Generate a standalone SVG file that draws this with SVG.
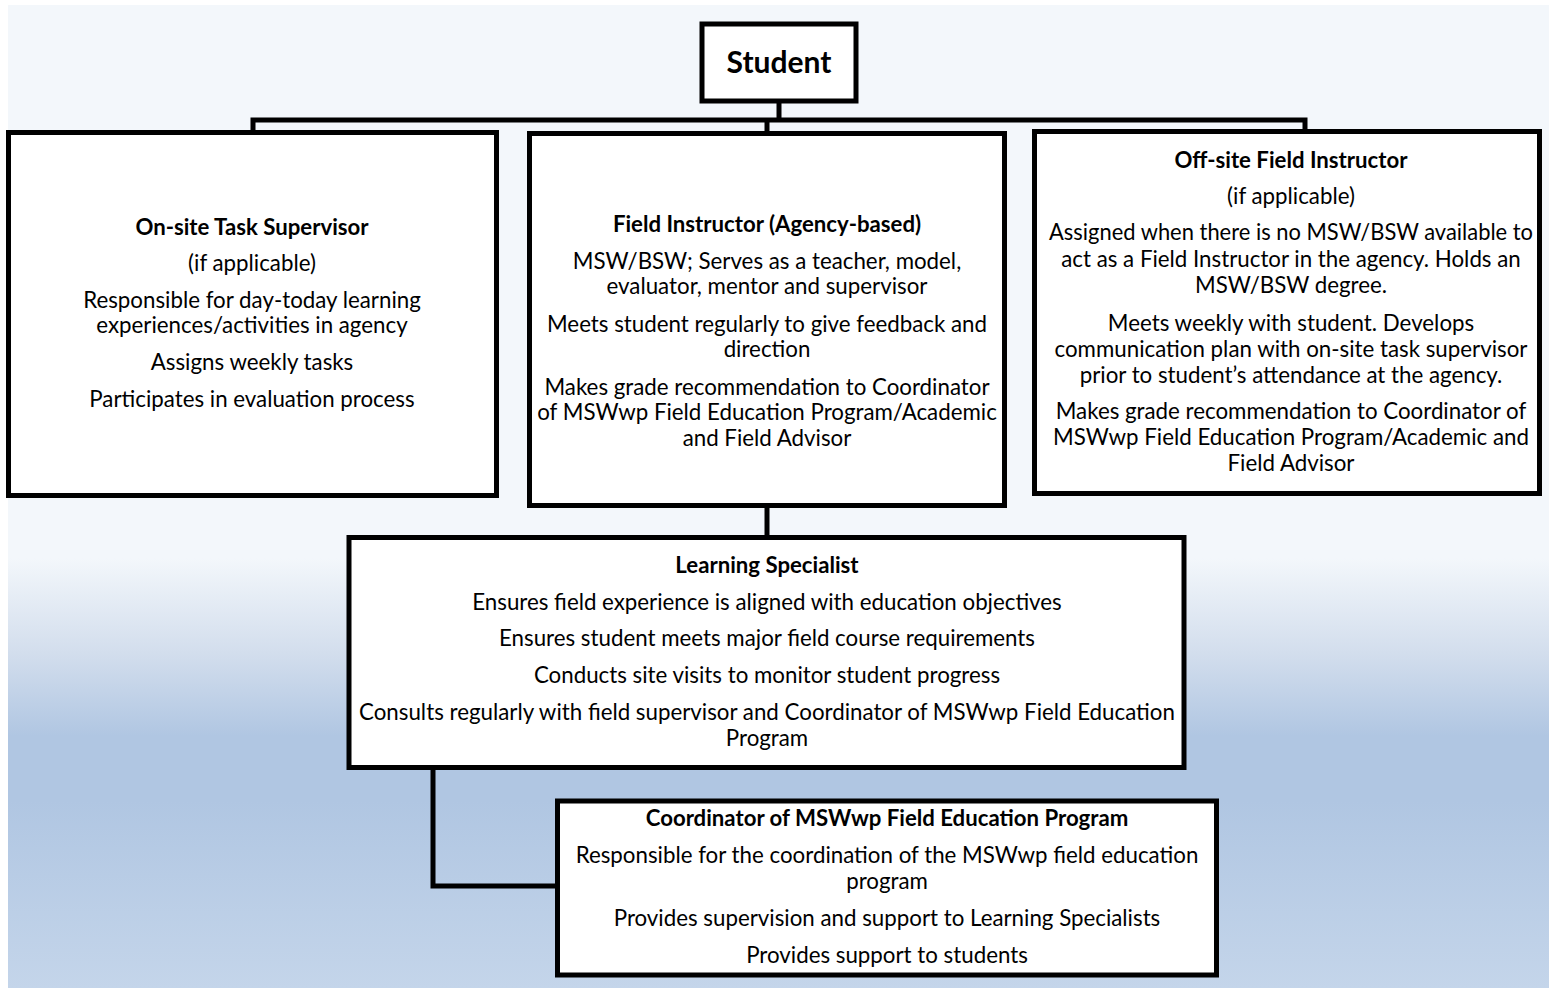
<svg xmlns="http://www.w3.org/2000/svg" width="1551" height="988" viewBox="0 0 1551 988">
  <defs>
    <linearGradient id="bg" x1="0" y1="0" x2="0" y2="988" gradientUnits="userSpaceOnUse">
      <stop offset="0" stop-color="#f3f7fb"/>
      <stop offset="0.565" stop-color="#f3f7fb"/>
      <stop offset="0.66" stop-color="#d3deed"/>
      <stop offset="0.745" stop-color="#b0c6e2"/>
      <stop offset="0.81" stop-color="#b0c6e2"/>
      <stop offset="1" stop-color="#c4d5ea"/>
    </linearGradient>
  </defs>
  <style>
    .box { fill: #ffffff; stroke: #000000; stroke-width: 5; }
    .conn { fill: none; stroke: #000000; stroke-width: 5; stroke-linejoin: miter; }
    text { font-family: Lato, "Liberation Sans", sans-serif; font-size: 22.3px; fill: #000000; text-anchor: middle; }
    .title { font-weight: bold; font-size: 22.2px; }
    .big { font-weight: bold; font-size: 30px; }
  </style>
  <rect x="0" y="0" width="1551" height="988" fill="#ffffff"/>
  <rect x="8" y="5" width="1541" height="983" fill="url(#bg)"/>

  <g id="connectors">
    <path class="conn" d="M779 101 V120"/>
    <path class="conn" d="M253 132 V120 H1305 V131"/>
    <path class="conn" d="M767 120 V134"/>
    <path class="conn" d="M767 505 V537"/>
    <path class="conn" d="M433 767 V886 H557"/>
  </g>

  <g id="student">
    <rect class="box" x="702" y="24" width="154" height="77"/>
    <text class="big" x="779" y="73">Student</text>
  </g>

  <g id="onsite-task-supervisor">
    <rect class="box" x="8.5" y="132.5" width="488" height="363"/>
    <text class="title" x="252" y="235">On-site Task Supervisor</text>
    <text x="252" y="271">(if applicable)</text>
    <text x="252" y="308">Responsible for day-today learning</text>
    <text x="252" y="333">experiences/activities in agency</text>
    <text x="252" y="370">Assigns weekly tasks</text>
    <text x="252" y="407">Participates in evaluation process</text>
  </g>

  <g id="field-instructor">
    <rect class="box" x="529.5" y="133.5" width="475" height="372"/>
    <text class="title" x="767" y="232">Field Instructor (Agency-based)</text>
    <text x="767" y="269">MSW/BSW; Serves as a teacher, model,</text>
    <text x="767" y="294">evaluator, mentor and supervisor</text>
    <text x="767" y="332">Meets student regularly to give feedback and</text>
    <text x="767" y="357">direction</text>
    <text x="767" y="395">Makes grade recommendation to Coordinator</text>
    <text x="767" y="420">of MSWwp Field Education Program/Academic</text>
    <text x="767" y="446">and Field Advisor</text>
  </g>

  <g id="offsite-field-instructor">
    <rect class="box" x="1034.5" y="131.5" width="505" height="362"/>
    <text class="title" x="1291" y="168">Off-site Field Instructor</text>
    <text x="1291" y="204">(if applicable)</text>
    <text x="1291" y="240" textLength="484" lengthAdjust="spacingAndGlyphs">Assigned when there is no MSW/BSW available to</text>
    <text x="1291" y="267">act as a Field Instructor in the agency. Holds an</text>
    <text x="1291" y="293">MSW/BSW degree.</text>
    <text x="1291" y="331">Meets weekly with student. Develops</text>
    <text x="1291" y="357">communication plan with on-site task supervisor</text>
    <text x="1291" y="383">prior to student’s attendance at the agency.</text>
    <text x="1291" y="419">Makes grade recommendation to Coordinator of</text>
    <text x="1291" y="445">MSWwp Field Education Program/Academic and</text>
    <text x="1291" y="471">Field Advisor</text>
  </g>

  <g id="learning-specialist">
    <rect class="box" x="349" y="537.5" width="835" height="230"/>
    <text class="title" x="767" y="573">Learning Specialist</text>
    <text x="767" y="610">Ensures field experience is aligned with education objectives</text>
    <text x="767" y="646">Ensures student meets major field course requirements</text>
    <text x="767" y="683">Conducts site visits to monitor student progress</text>
    <text x="767" y="720">Consults regularly with field supervisor and Coordinator of MSWwp Field Education</text>
    <text x="767" y="746">Program</text>
  </g>

  <g id="coordinator">
    <rect class="box" x="557.5" y="801" width="659" height="174"/>
    <text class="title" x="887" y="826">Coordinator of MSWwp Field Education Program</text>
    <text x="887" y="863">Responsible for the coordination of the MSWwp field education</text>
    <text x="887" y="889">program</text>
    <text x="887" y="926">Provides supervision and support to Learning Specialists</text>
    <text x="887" y="963">Provides support to students</text>
  </g>
</svg>
